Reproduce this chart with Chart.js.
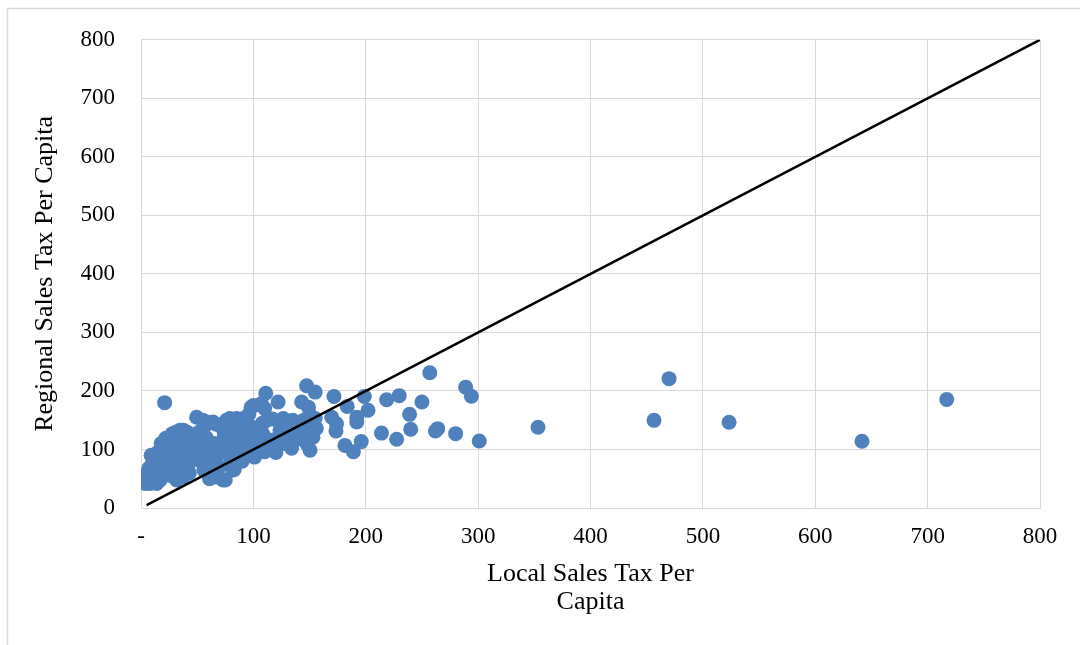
<!DOCTYPE html>
<html>
<head>
<meta charset="utf-8">
<script src="https://cdn.jsdelivr.net/npm/chart.js@4"></script>
<style>
  html, body { margin: 0; padding: 0; background: #ffffff; }
  #wrap { position: relative; width: 1080px; height: 645px; }
  canvas { display: block; }
</style>
</head>
<body>
<div id="wrap"><canvas id="chart" width="1080" height="645"></canvas></div>
<script>
// Local sales tax per capita (x) and regional sales tax per capita (y), one entry per area
const localTax = [
  3.6, 8, 6.5, 14, 12, 8, 7, 9.5, 9, 12, 15, 15, 11, 5, 13,
  17, 18, 20, 22, 21, 25, 28, 25, 18, 20, 27, 24, 29, 22, 26, 30, 28, 19,
  31.7, 37.6, 35.6, 31.7, 34.7, 37.6, 40.6, 33, 36, 38, 42, 44, 46, 48, 45, 40, 47, 35, 43, 49.5, 48, 41, 32,
  55, 58.5, 64, 76, 79, 52, 55, 57, 60, 61, 64, 66, 67, 73, 75, 70, 62, 68, 72, 74, 78, 53, 65, 74, 77, 80, 56, 56, 67, 52, 71, 58,
  82, 83, 85, 86, 91, 92.5, 98, 100, 107, 97, 105, 104, 94, 101, 110, 109, 112, 88, 92, 95, 85, 90, 100, 103, 108, 96, 84, 87, 80, 99,
  110, 111, 117, 122, 126.6, 141.5, 143, 147.4, 149, 155, 155, 156, 153, 147.5, 150.4, 134, 107, 123.7, 117.7, 130, 139, 137, 141, 115, 120, 125, 132, 145, 150, 135, 128, 145, 152,
  169.7, 171.7, 173.5, 174, 181.5, 183.5, 189, 192, 192, 196, 198.7, 202, 214, 218.6, 227.5, 229.8, 239, 240, 250, 257, 262, 264, 280, 288.9, 294, 301,
  353.3, 456.5, 469.9, 523.3, 641.6, 717
];
const regionalTax = [
  42, 42, 45, 42, 48, 65, 68, 73, 90, 80, 60, 95, 55, 58, 70,
  48, 110, 100, 119, 180, 90, 127, 70, 75, 60, 55, 85, 105, 65, 110, 95, 75, 88,
  48, 53, 66, 130, 133, 133, 130, 115, 100, 85, 75, 95, 110, 120, 125, 70, 85, 80, 60, 155, 100, 112, 90,
  150, 147, 147, 150, 153, 130, 115, 95, 85, 50, 58, 56, 53, 48, 48, 70, 75, 90, 105, 120, 135, 80, 110, 128, 95, 82, 65, 138, 143, 100, 140, 120,
  65, 66, 153, 150, 153, 147, 172, 175, 178, 140, 121, 99, 95, 87, 96, 124, 150, 110, 125, 105, 130, 80, 110, 135, 145, 160, 95, 140, 118, 128,
  170, 196, 152, 181, 153, 147, 181, 209, 172, 198, 153, 136, 121, 110, 98.7, 102, 133, 133, 116, 122, 141, 116, 128, 105, 95, 140, 135, 150, 160, 150, 110, 125, 140,
  155, 190.6, 131.6, 144, 107, 173.6, 96, 155, 147, 113.5, 190.6, 167, 128, 185, 117.4, 192, 160, 134.5, 181, 231, 131.6, 135.6, 127, 206.5, 191, 114.6,
  137.9, 149.8, 221, 146.4, 114, 185.5
];

// Equal-value reference line endpoints
const refLineX = [5, 800];
const refLineY = [5, 800];

// Axis tick values
const axisTicks = [0, 100, 200, 300, 400, 500, 600, 700, 800];

const scatterPoints = localTax.map((x, i) => ({ x: x, y: regionalTax[i] }));
const refLinePoints = refLineX.map((x, i) => ({ x: x, y: refLineY[i] }));

const GRID = '#d9d9d9';
const SERIF = '"Liberation Serif", "Times New Roman", serif';

// Thin grey frame around the whole chart
const framePlugin = {
  id: 'frame',
  beforeDraw(chart) {
    const ctx = chart.ctx;
    ctx.save();
    ctx.strokeStyle = GRID;
    ctx.lineWidth = 1.5;
    ctx.beginPath();
    ctx.moveTo(7.5, chart.height + 5);
    ctx.lineTo(7.5, 8.5);
    ctx.lineTo(chart.width + 5, 8.5);
    ctx.stroke();
    ctx.restore();
  }
};

new Chart(document.getElementById('chart'), {
  type: 'scatter',
  data: {
    datasets: [
      {
        type: 'line',
        label: 'Equal',
        data: refLinePoints,
        borderColor: '#000000',
        borderWidth: 2.5,
        pointRadius: 0,
        fill: false,
        order: 0
      },
      {
        label: 'Areas',
        data: scatterPoints,
        backgroundColor: '#4f81bd',
        borderWidth: 0,
        pointRadius: 7.5,
        pointHoverRadius: 7.5,
        order: 1
      }
    ]
  },
  options: {
    responsive: false,
    animation: false,
    events: [],
    layout: { padding: { left: 0, right: 40, top: 38, bottom: 0 } },
    plugins: {
      legend: { display: false },
      tooltip: { enabled: false }
    },
    scales: {
      x: {
        type: 'linear',
        min: 0,
        max: 800,
        afterBuildTicks(scale) { scale.ticks = axisTicks.map(v => ({ value: v })); },
        afterFit(scale) { scale.height = 137; },
        grid: { color: GRID, lineWidth: 1, drawTicks: false },
        border: { color: GRID, width: 1 },
        ticks: {
          padding: 15,
          color: '#000000',
          font: { family: SERIF, size: 23 },
          maxRotation: 0,
          callback: v => (v === 0 ? '-' : String(v))
        },
        title: {
          display: true,
          text: ['Local Sales Tax Per', 'Capita'],
          color: '#000000',
          font: { family: SERIF, size: 26, lineHeight: 1.05 },
          padding: { top: 0, bottom: 29.5 }
        }
      },
      y: {
        type: 'linear',
        min: 0,
        max: 800,
        afterBuildTicks(scale) { scale.ticks = axisTicks.map(v => ({ value: v })); },
        afterFit(scale) { scale.width = 141; },
        grid: { color: GRID, lineWidth: 1, drawTicks: false },
        border: { color: GRID, width: 1 },
        ticks: {
          padding: 26,
          color: '#000000',
          font: { family: SERIF, size: 23 }
        },
        title: {
          display: true,
          text: 'Regional Sales Tax Per Capita',
          color: '#000000',
          font: { family: SERIF, size: 26, lineHeight: 1.2 },
          padding: { top: 30, bottom: 0 }
        }
      }
    }
  },
  plugins: [framePlugin]
});
</script>
</body>
</html>
